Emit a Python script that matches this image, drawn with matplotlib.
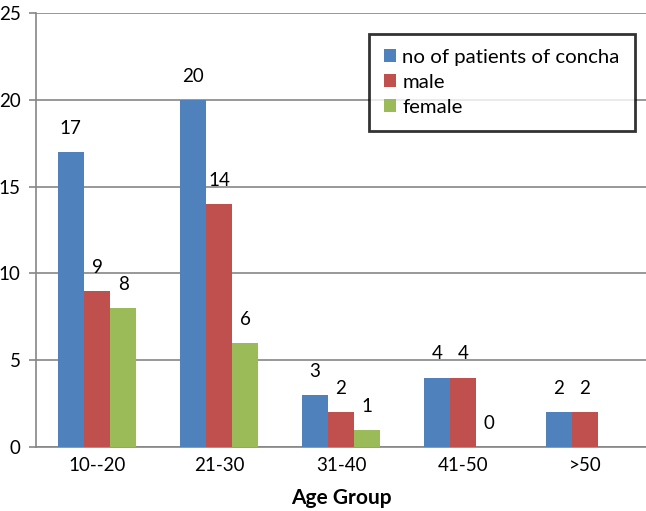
import numpy as np
from matplotlib import pyplot as plt

plt.rcParams['font.family'] = ['Lato', 'DejaVu Sans']

age_groups = ["10--20", "21-30", "31-40", "41-50", ">50"]
total = [17, 20, 3, 4, 2]
male = [9, 14, 2, 4, 2]
female = [8, 6, 1, 0, None]

series = [
    ("no of patients of concha", total, "#4F81BD"),
    ("male", male, "#C0504D"),
    ("female", female, "#9BBB59"),
]

fig = plt.figure(figsize=(6.46, 5.11), dpi=100)
ax = fig.add_axes([36 / 646, 64 / 511, 610 / 646, 434 / 511])

x = np.arange(len(age_groups))
width = 0.215
grey = "#868686"

for i, (name, vals, color) in enumerate(series):
    pos = x + (i - 1) * width
    heights = [v if v is not None else 0 for v in vals]
    ax.bar(pos, heights, width, color=color, label=name, zorder=3)
    for p, v in zip(pos, vals):
        if v is None:
            continue
        ax.annotate(str(v), (p, v), xytext=(0, 17), textcoords="offset points",
                    ha="center", va="center", fontsize=13.5)

ax.set_xlim(-0.5, len(age_groups) - 0.5)
ax.set_ylim(0, 25)
ax.set_yticks([0, 5, 10, 15, 20, 25])
ax.set_xticks(x)
ax.set_xticklabels(age_groups)
ax.tick_params(axis="x", length=0, pad=7, labelsize=13.5)
ax.tick_params(axis="y", length=5, width=1.2, color=grey, pad=6, labelsize=13.5)
ax.yaxis.grid(True, color=grey, linewidth=1.2, zorder=0)

for side in ["top", "right"]:
    ax.spines[side].set_visible(False)
for side in ["left", "bottom"]:
    ax.spines[side].set_color(grey)
    ax.spines[side].set_linewidth(1.2)

ax.set_xlabel("Age Group", fontsize=15, fontweight="bold", labelpad=10)

leg = ax.legend(loc="upper left", bbox_to_anchor=(333 / 610, 1 - 21 / 434),
                borderaxespad=0, fontsize=14.7, frameon=True, fancybox=False,
                handlelength=0.62, handleheight=0.62, handletextpad=0.3,
                borderpad=0.72, labelspacing=0.4)
leg.get_frame().set_edgecolor("black")
leg.get_frame().set_linewidth(2)

fig.savefig("out.png", dpi=100)
